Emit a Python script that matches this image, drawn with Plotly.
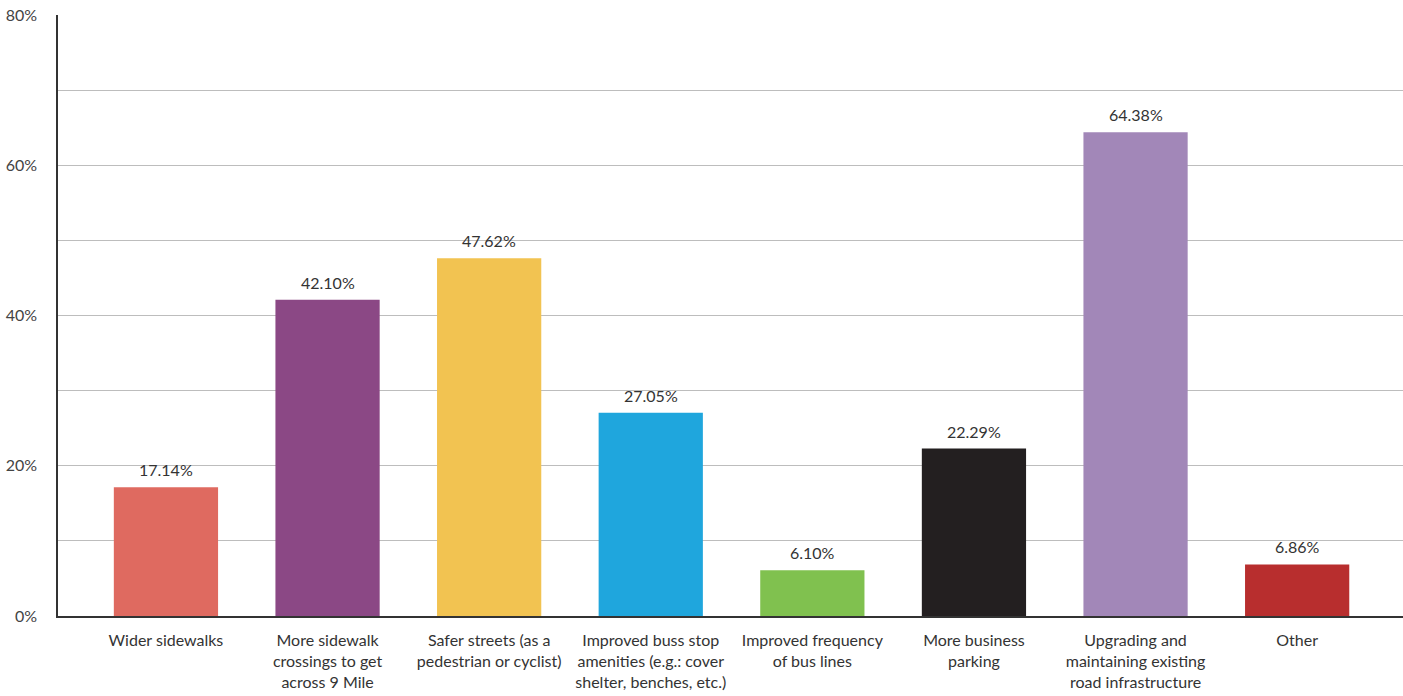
import plotly.graph_objects as go

categories = [
    "Wider sidewalks",
    "More sidewalk<br>crossings to get<br>across 9 Mile",
    "Safer streets (as a<br>pedestrian or cyclist)",
    "Improved buss stop<br>amenities (e.g.: cover<br>shelter, benches, etc.)",
    "Improved frequency<br>of bus lines",
    "More business<br>parking",
    "Upgrading and<br>maintaining existing<br>road infrastructure",
    "Other",
]
values = [17.14, 42.10, 47.62, 27.05, 6.10, 22.29, 64.38, 6.86]
colors = ["#DF6A60", "#8B4885", "#F2C351", "#1FA6DD", "#80C14F", "#231F20", "#A287B8", "#B82E2E"]

x_pos = list(range(len(categories)))
FONT = "Lato, Open Sans, sans-serif"

fig = go.Figure(
    go.Bar(
        x=x_pos,
        y=values,
        width=0.645,
        marker=dict(color=colors, line=dict(width=0)),
        hovertemplate="%{y:.2f}%<extra></extra>",
    )
)

# value labels above each bar
for xi, v in zip(x_pos, values):
    fig.add_annotation(
        x=xi, y=v, text=f"{v:.2f}%", showarrow=False,
        yanchor="bottom", yshift=6,
        font=dict(family=FONT, size=16, color="#333333"),
    )

fig.update_layout(
    width=1403,
    height=696,
    margin=dict(l=58, r=0, t=15, b=80),
    plot_bgcolor="white",
    paper_bgcolor="white",
    showlegend=False,
    font=dict(family=FONT, size=16, color="#333333"),
    xaxis=dict(
        tickmode="array",
        tickvals=x_pos,
        ticktext=categories,
        range=[-0.668, 7.655],
        showgrid=False,
        showline=True,
        linecolor="#333333",
        linewidth=1.5,
        ticks="",
        tickangle=0,
        ticklabelstandoff=9,
        tickfont=dict(size=16, color="#333333"),
    ),
    yaxis=dict(
        range=[0, 80],
        tickvals=[0, 20, 40, 60, 80],
        ticktext=["0%", "20%", "40%", "60%", "80%"],
        showgrid=True,
        gridcolor="#bdbdbd",
        gridwidth=1,
        minor=dict(dtick=10, showgrid=True, gridcolor="#bdbdbd", gridwidth=1),
        showline=True,
        linecolor="#333333",
        linewidth=1.5,
        zeroline=False,
        ticks="",
        ticklabelstandoff=16,
        tickfont=dict(size=16, color="#444444"),
    ),
)

fig.write_html("out.html")
